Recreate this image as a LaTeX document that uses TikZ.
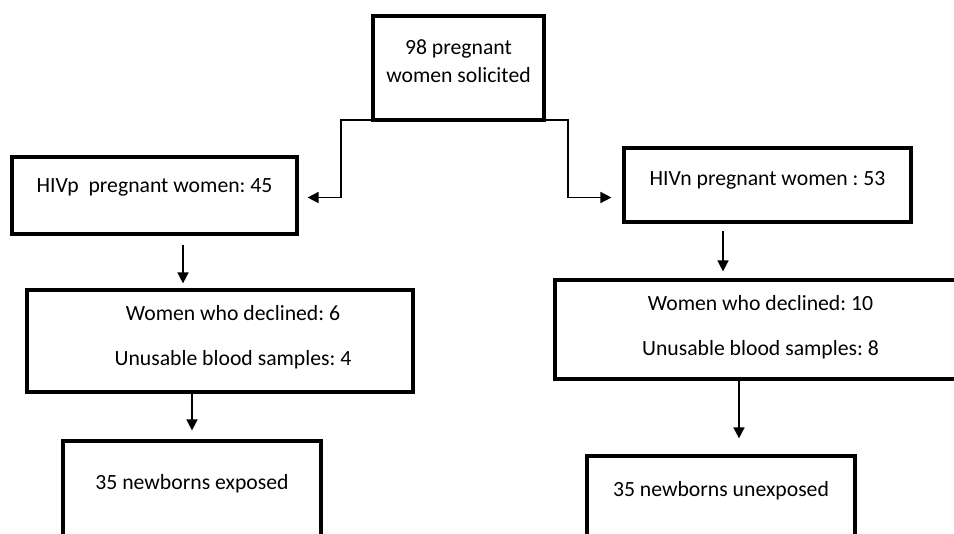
\documentclass[tikz,border=0pt]{standalone}
\usepackage{fontspec}
\setmainfont{Carlito}
\usetikzlibrary{arrows.meta,calc}
\frenchspacing

\newcommand{\boxtext}[2]{\raisebox{#1}[0pt][0pt]{\begin{tabular}{@{}c@{}}#2\end{tabular}}}

\begin{document}
\begin{tikzpicture}[x=1pt, y=-1pt]
        \tikzstyle{box}=[draw,rectangle,line width=3.2pt,inner sep=0pt,font=\fontsize{21.7}{26}\selectfont]
        \tikzstyle{arrow}=[line width=1.6pt,-{Triangle[length=11pt,width=11pt]}]

        \path[use as bounding box,fill=white] (0,0) rectangle (954,534);
        \clip (0,0) rectangle (954,534);

        \node[box,line width=4pt,minimum width=171pt,minimum height=104pt] (Top) at (458.5,68) {\boxtext{-0.4pt}{98 pregnant\\[2pt] women solicited}};
        \node[box,minimum width=285pt,minimum height=77pt] (Pos_1) at (154.5,195.5) {\boxtext{2.6pt}{HIVp~~pregnant women: 45}};
        \node[box,minimum width=287pt,minimum height=74pt] (Neg_1) at (767.5,185) {\boxtext{-0.4pt}{HIVn pregnant women : 53}};
        \node[box,minimum width=386pt,minimum height=102pt] (Pos_2) at (220,341) {\hspace*{26pt}\boxtext{-1.9pt}{Women who declined: 6\\[19pt] Unusable blood samples: 4}};
        \node[box,minimum width=411pt,minimum height=99pt] (Neg_2) at (760.5,329.5) {\boxtext{-3.4pt}{Women who declined: 10\\[19pt] Unusable blood samples: 8}};
        \node[box,minimum width=258pt,minimum height=119pt] (Pos_3) at (192,500.5) {\boxtext{11.1pt}{35 newborns exposed}};
        \node[box,minimum width=268pt,minimum height=119pt] (Neg_3) at (721,515.5) {\boxtext{19.1pt}{35 newborns unexposed}};

        \coordinate (tip_p) at ($(Pos_1.east)+(9,2)$);
        \coordinate (tip_n) at ($(Neg_1.west |- tip_p)+(-11,0)$);

        \draw[arrow] ($(Top.south west)+(0,-2)$) -- ++(-30,0) |- (tip_p);
        \draw[arrow] ($(Top.south east)+(0,-2)$) -- ++(22,0) |- (tip_n);
        \draw[arrow] ($(Pos_1.south)+(28.5,9)$) -- ($(Pos_1.south |- Pos_2.north)+(28.5,-5)$);
        \draw[arrow] (Pos_2.south -| Pos_3.north) -- ($(Pos_3.north)+(0,-9)$);
        \draw[arrow] ($(Neg_1.south)+(-44.5,7)$) -- ($(Neg_1.south |- Neg_2.north)+(-44.5,-7)$);
        \draw[arrow] ($(Neg_2.south -| Neg_3.north)+(18,0)$) -- ($(Neg_3.north)+(18,-16)$);
\end{tikzpicture}
\end{document}
